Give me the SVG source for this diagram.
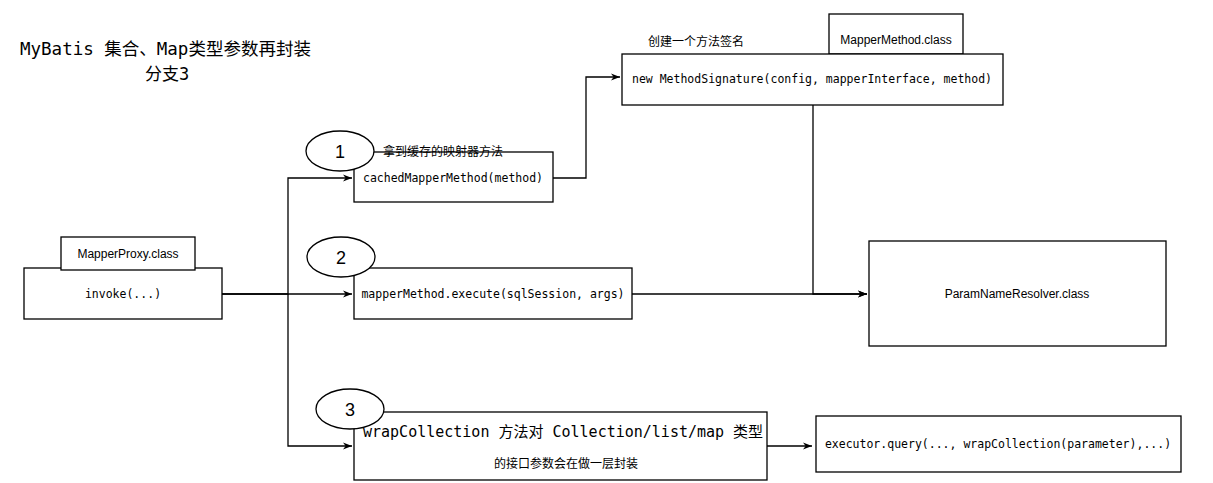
<svg xmlns="http://www.w3.org/2000/svg" width="1213" height="483" viewBox="0 0 1213 483">
<style>
.b{fill:#fff;stroke:#000;stroke-width:1.3}
.m{font-family:"DejaVu Sans Mono","Liberation Mono",monospace;font-size:11.5px}
.s{font-family:"Liberation Sans","Noto Sans CJK SC",sans-serif;font-size:12px}
.n{font-family:"Liberation Sans",sans-serif;font-size:18px}
.c{fill:none;stroke:#000;stroke-width:1.3}
</style>
<defs><marker id="a" viewBox="0 0 10 10" refX="10" refY="5" markerWidth="7" markerHeight="7" orient="auto"><path d="M0,1 L10,5 L0,9 L3,5z"/></marker></defs>
<rect width="1213" height="483" fill="#fff"/>
<text x="20" y="55" font-family="'DejaVu Sans Mono','Noto Sans CJK SC',monospace" font-size="17.5">MyBatis 集合、Map类型参数再封装</text>
<text x="145" y="80" font-family="'DejaVu Sans Mono','Noto Sans CJK SC',monospace" font-size="17">分支3</text>
<g id="connectors">
<path class="c" d="M222,294 H288 V178 H352" marker-end="url(#a)"/>
<path class="c" d="M222,294 H352" marker-end="url(#a)"/>
<path class="c" d="M288,294 V446 H352" marker-end="url(#a)"/>
<path class="c" d="M553,178 H586 V77 H620" marker-end="url(#a)"/>
<path class="c" d="M632,294 H867" marker-end="url(#a)"/>
<path class="c" d="M813,105 V294 H867" marker-end="url(#a)"/>
<path class="c" d="M767,446 H812" marker-end="url(#a)"/>
</g>
<g id="mapperproxy"><rect class="b" x="24" y="268" width="198" height="51"/><rect class="b" x="61" y="237" width="134" height="33"/><text class="s" x="128" y="258" text-anchor="middle">MapperProxy.class</text><text class="m" x="123" y="298" text-anchor="middle">invoke(...)</text></g>
<g id="cached"><rect class="b" x="354" y="152" width="199" height="50"/><text class="m" x="453" y="182" text-anchor="middle">cachedMapperMethod(method)</text></g>
<g id="c1"><ellipse class="b" cx="340" cy="151" rx="34" ry="20"/><text class="n" x="340" y="158" text-anchor="middle">1</text></g>
<text class="s" x="383" y="156">拿到缓存的映射器方法</text>
<g id="execute"><rect class="b" x="354" y="268" width="278" height="51"/><text class="m" x="493" y="298" text-anchor="middle">mapperMethod.execute(sqlSession, args)</text></g>
<g id="c2"><ellipse class="b" cx="341" cy="257" rx="34" ry="20"/><text class="n" x="341" y="264" text-anchor="middle">2</text></g>
<g id="wrap"><rect class="b" x="354" y="412" width="413" height="68"/><text x="363" y="437" font-family="'DejaVu Sans Mono','Noto Sans CJK SC',monospace" font-size="15">wrapCollection 方法对 Collection/list/map 类型</text><text class="s" x="566" y="468" text-anchor="middle">的接口参数会在做一层封装</text></g>
<g id="c3"><ellipse class="b" cx="350" cy="409" rx="34" ry="20"/><text class="n" x="350" y="416" text-anchor="middle">3</text></g>
<g id="query"><rect class="b" x="816" y="416" width="365" height="56"/><text class="m" x="998" y="448" text-anchor="middle">executor.query(..., wrapCollection(parameter),...)</text></g>
<g id="signature"><rect class="b" x="829" y="14" width="134" height="40"/><text class="s" x="896" y="44" text-anchor="middle">MapperMethod.class</text><rect class="b" x="622" y="54" width="381" height="51"/><text class="m" x="812" y="83" text-anchor="middle">new MethodSignature(config, mapperInterface, method)</text></g>
<text class="s" x="648" y="46">创建一个方法签名</text>
<g id="resolver"><rect class="b" x="869" y="241" width="297" height="105"/><text class="s" x="1017" y="298" text-anchor="middle">ParamNameResolver.class</text></g>
</svg>
